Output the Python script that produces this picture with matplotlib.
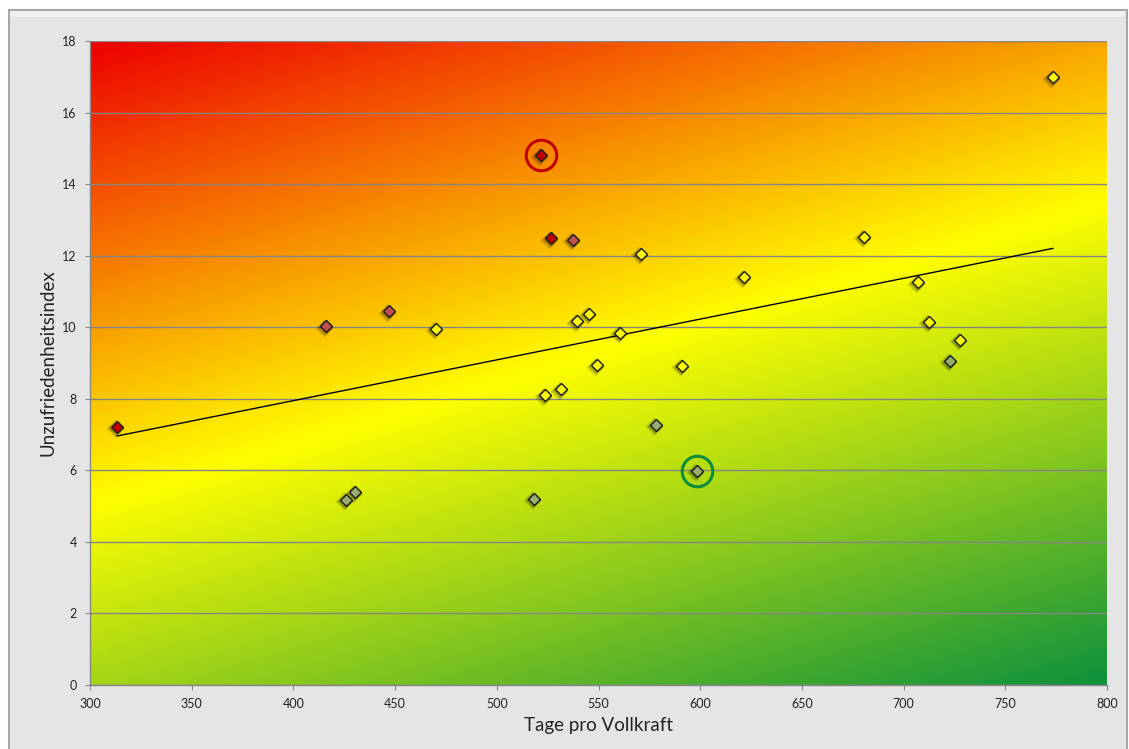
import numpy as np
import matplotlib
matplotlib.use("Agg")
import matplotlib.pyplot as plt
from matplotlib.patches import Rectangle
from matplotlib.colors import LinearSegmentedColormap
import matplotlib.transforms as mtransforms

# ---- data ----
tage = [313.3, 416.0, 447.0, 470.0, 425.9, 430.3, 518.3, 521.7, 526.6, 537.5,
        523.7, 531.6, 539.4, 545.3, 549.3, 560.6, 570.9, 578.3, 598.4, 591.0,
        621.5, 680.5, 707.0, 712.5, 727.7, 722.8, 773.4]
index = [7.21, 10.03, 10.45, 9.95, 5.17, 5.39, 5.20, 14.81, 12.49, 12.44,
         8.10, 8.27, 10.17, 10.37, 8.94, 9.84, 12.05, 7.27, 5.98, 8.92,
         11.40, 12.52, 11.26, 10.15, 9.64, 9.06, 16.99]
kategorie = ["rot", "rosa", "rosa", "gelb", "gruen", "gruen", "gruen", "rot", "rot", "rosa",
             "gelb", "gelb", "gelb", "gelb", "gelb", "gelb", "gelb", "gruen", "gruen", "gelb",
             "gelb", "gelb", "gelb", "gelb", "gelb", "gruen", "gelb"]
markiert_schlecht = [(521.7, 14.81)]
markiert_gut = [(598.4, 5.98)]

x_ticks = [300, 350, 400, 450, 500, 550, 600, 650, 700, 750, 800]
y_ticks = [0, 2, 4, 6, 8, 10, 12, 14, 16, 18]
x_label = "Tage pro Vollkraft"
y_label = "Unzufriedenheitsindex"

farben = {"rot": "#C00000", "rosa": "#C0504D", "gelb": "#FFFF00", "gruen": "#97AE6E"}

plt.rcParams['font.family'] = ['Lato', 'DejaVu Sans']

W, H = 1129, 749
fig = plt.figure(figsize=(W / 100, H / 100), dpi=100)
fig.patch.set_facecolor("white")

# outer chart frame
fig.patches.append(Rectangle((9 / W, -0.01), (1127 - 9) / W, 1 - 10 / H + 0.01,
                             transform=fig.transFigure, facecolor="#E5E5E5",
                             edgecolor="#A6A6A6", linewidth=1.5, zorder=-10))
fig.patches.append(Rectangle((10 / W, 1 - 17 / H), (1125 - 10) / W, 6 / H,
                             transform=fig.transFigure, facecolor="#F0F0F0",
                             edgecolor="none", zorder=-9))

L, R, T, B = 90, 1107, 41, 685
ax = fig.add_axes([L / W, 1 - B / H, (R - L) / W, (B - T) / H])
ax.set_zorder(1)
ax.set_xlim(300, 800)
ax.set_ylim(0, 18)

# gradient background (red -> yellow -> green, diagonal)
pw, ph = R - L, B - T
gx, gy = np.meshgrid(np.linspace(0, pw, 400), np.linspace(0, ph, 300))
d = np.array([0.2857, 0.9583])
t = (d[0] * gx + d[1] * gy) / (d[0] * pw + d[1] * ph)
cmap = LinearSegmentedColormap.from_list(
    "ryg", [(0.0, (238/255, 0, 0)), (0.49, (1, 1, 0)), (1.0, (14/255, 145/255, 60/255))])
ax.imshow(cmap(t), extent=[300, 800, 0, 18], origin="upper", aspect="auto",
          zorder=0, interpolation="bilinear")

ax.set_xticks(x_ticks)
ax.set_yticks(y_ticks)
ax.grid(axis="y", color="#868686", linewidth=1.0, zorder=1)
ax.set_axisbelow(False)
for s in ["top", "right"]:
    ax.spines[s].set_visible(False)
for s in ["left", "bottom"]:
    ax.spines[s].set_color("#868686")
    ax.spines[s].set_linewidth(1.0)
ax.tick_params(axis="both", direction="out", length=3.5, width=0.8, color="#868686",
               labelsize=9, labelcolor="#222222")
ax.tick_params(axis="x", pad=6)
ax.tick_params(axis="y", pad=6)

# trend line (linear regression)
k, m = np.polyfit(tage, index, 1)
xs = np.array([min(tage), max(tage)])
ax.plot(xs, k * xs + m, color="black", linewidth=1.0, zorder=3)

# marker shadows
for dx, dy, a, extra in [(-1.2, -1.0, 0.15, 3.0), (-0.7, -0.6, 0.22, 1.5)]:
    off = mtransforms.offset_copy(ax.transData, fig=fig, x=dx, y=dy, units="points")
    ax.plot(tage, index, linestyle="none", marker="D", markersize=6.2 + extra,
            markerfacecolor="black", markeredgecolor="none", alpha=a,
            transform=off, zorder=4)

# markers
for x, y, c in zip(tage, index, kategorie):
    ax.plot(x, y, linestyle="none", marker="D", markersize=6.2,
            markerfacecolor=farben[c], markeredgecolor="#1A1A1A",
            markeredgewidth=1.0, zorder=5)

# highlight circles
for (x, y) in markiert_schlecht:
    ax.plot(x, y, marker="o", markersize=22, markerfacecolor="none",
            markeredgecolor="#C00000", markeredgewidth=2.2, zorder=6)
for (x, y) in markiert_gut:
    ax.plot(x, y, marker="o", markersize=22, markerfacecolor="none",
            markeredgecolor="#0E8C3A", markeredgewidth=2.2, zorder=6)

ax.set_xlabel(x_label, fontsize=13.5, color="#222222", labelpad=5)
ax.set_ylabel(y_label, fontsize=13.5, color="#222222", labelpad=4)

fig.savefig("out.png", dpi=100)
